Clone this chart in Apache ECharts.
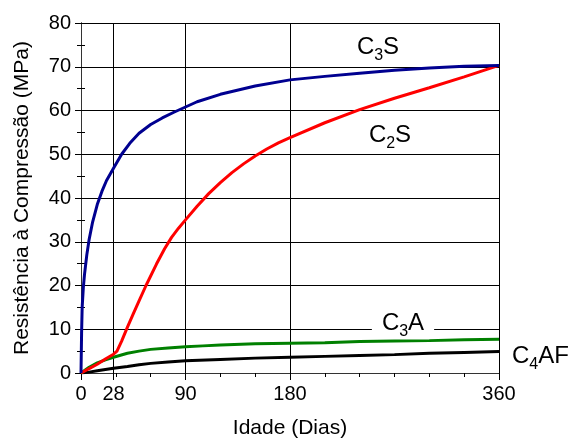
<!DOCTYPE html>
<html><head><meta charset="utf-8">
<script src="https://cdn.jsdelivr.net/npm/echarts@6/dist/echarts.min.js"></script>
<style>html,body{margin:0;padding:0;background:#fff}#c{width:571px;height:441px}</style>
</head><body><div id="c"></div>
<script>
// Data (Idade em dias, Resistência em MPa)
const c3sDays   = [0,0.5,1,2,3,5,7,10,14,18,22,28,35,42,50,60,70,80,90,100,120,150,180,210,240,270,300,330,360];
const c3sValues = [0,9,15,19.5,22.5,27,30.5,34.5,38.5,41.5,44,46.8,50,52.5,54.8,56.8,58.3,59.6,60.8,62,63.7,65.6,67,67.8,68.5,69.2,69.7,70.1,70.3];
const c2sDays   = [0,7,14,21,28,31,35,40,45,50,56,65,72,78,84,90,100,110,120,130,140,150,160,170,180,210,240,270,300,330,360];
const c2sValues = [0,1,2,3.2,4.3,5,7.3,10.5,13.5,16.5,20,24.9,28.4,31.0,33.1,35,38.1,41,43.5,45.8,47.8,49.6,51.2,52.6,53.8,57.2,60.2,62.8,65.2,67.7,70.3];
const c3aDays   = [0,7,14,21,28,40,50,60,75,90,105,120,150,180,210,240,270,300,330,360];
const c3aValues = [0,1.3,2.3,3,3.6,4.5,5,5.4,5.7,6,6.2,6.4,6.7,6.8,6.9,7.2,7.3,7.4,7.6,7.7];
const c4afDays   = [0,7,14,21,28,40,50,60,75,90,120,150,180,210,240,270,300,330,360];
const c4afValues = [0,0.2,0.5,0.8,1.1,1.5,1.9,2.2,2.5,2.8,3.1,3.4,3.6,3.8,4.0,4.2,4.5,4.7,4.9];
const xTickLabels = [0,28,90,180,360];
const seriesNames = ['C3S','C2S','C3A','C4AF'];

const FONT = "'Liberation Sans', Arial, sans-serif";
const pairs = (d, v) => d.map((x, i) => [x, v[i]]);

const chart = echarts.init(document.getElementById('c'), null, {renderer:'canvas'});
const black = {color:'#000', width:1};
const mk = (name, d, v, color) => ({
  name, type:'line', xAxisIndex:0, yAxisIndex:0, data:pairs(d, v),
  showSymbol:false, symbol:'none', lineStyle:{color, width:3}, itemStyle:{color}, z:5
});
const sub = (main, s, tail) => `{a|${main}}{s|${s}}{a|${tail}}`;
const rich = {a:{fontSize:24, fontFamily:FONT, color:'#000'}, s:{fontSize:16, fontFamily:FONT, color:'#000', padding:[18,0,0,0]}};

chart.setOption({
  animation:false,
  backgroundColor:'#fff',
  grid:{left:81, right:72, top:23, bottom:68, containLabel:false, outerBoundsMode:'none'},
  xAxis:[
    {type:'value', position:'bottom', min:0, max:360,
     axisLine:{show:true, lineStyle:black},
     axisTick:{show:true, length:7, customValues:xTickLabels, lineStyle:black},
     axisLabel:{customValues:xTickLabels, fontSize:20, color:'#000', margin:11, fontFamily:FONT},
     splitLine:{show:true, lineStyle:black},
     name:'Idade (Dias)', nameLocation:'middle', nameGap:45,
     nameTextStyle:{fontSize:21, color:'#000', fontFamily:FONT}},
    {type:'value', position:'bottom', min:0, max:360, interval:30,
     axisLine:{show:false}, axisTick:{show:true, length:4, lineStyle:black},
     axisLabel:{show:false}, splitLine:{show:false}},
    {type:'value', position:'top', min:0, max:360, interval:30,
     axisLine:{show:true, lineStyle:{color:'#333', width:1}}, axisTick:{show:true, inside:true, length:4, lineStyle:black},
     axisLabel:{show:false}, splitLine:{show:false}}
  ],
  yAxis:[
    {type:'value', position:'left', min:0, max:80, interval:10,
     axisLine:{show:true, lineStyle:black},
     axisTick:{show:true, length:6, lineStyle:black},
     axisLabel:{fontSize:20, color:'#000', margin:10, fontFamily:FONT},
     splitLine:{show:true, lineStyle:black},
     name:'Resistência à Compressão (MPa)', nameLocation:'middle', nameGap:48,
     nameTextStyle:{fontSize:21, color:'#000', fontFamily:FONT}},
    {type:'value', position:'left', min:0, max:80, interval:5,
     axisLine:{show:false}, axisTick:{show:true, inside:true, length:4, lineStyle:black},
     axisLabel:{show:false}, splitLine:{show:false}},
    {type:'value', position:'right', min:0, max:80, interval:5,
     axisLine:{show:true, lineStyle:{color:'#333', width:1}}, axisTick:{show:true, inside:true, length:4, lineStyle:black},
     axisLabel:{show:false}, splitLine:{show:false}}
  ],
  series:[
    mk(seriesNames[3], c4afDays, c4afValues, '#000000'),
    mk(seriesNames[2], c3aDays, c3aValues, '#008000'),
    mk(seriesNames[1], c2sDays, c2sValues, '#ff0000'),
    mk(seriesNames[0], c3sDays, c3sValues, '#000090')
  ],
  graphic:[
    {type:'text', x:378, y:47, z:10, style:{text:sub('C','3','S'), rich, align:'center', verticalAlign:'middle'}},
    {type:'text', x:390, y:135, z:10, style:{text:sub('C','2','S'), rich, align:'center', verticalAlign:'middle'}},
    {type:'text', x:403, y:323, z:3, style:{text:sub('C','3','A'), rich, align:'center', verticalAlign:'middle', backgroundColor:'#fff', padding:[0,10,0,10]}},
    {type:'text', x:512, y:356, z:10, style:{text:sub('C','4','AF'), rich, align:'left', verticalAlign:'middle'}}
  ]
});
</script></body></html>
